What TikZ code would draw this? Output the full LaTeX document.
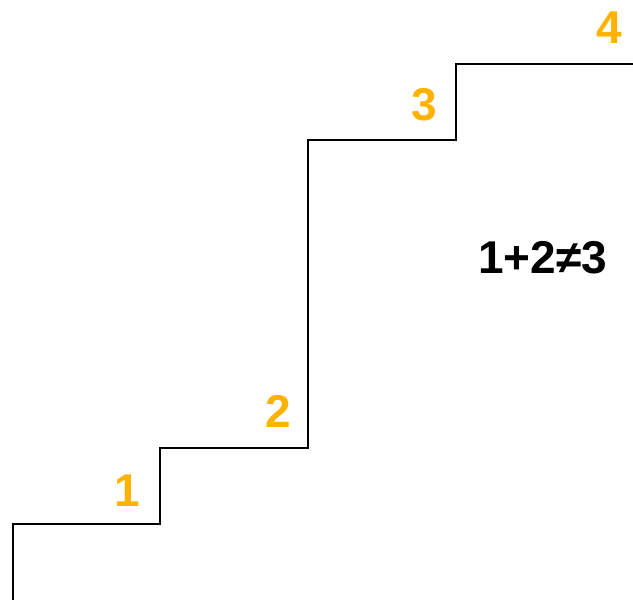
\documentclass[tikz,border=0pt]{standalone}
\usepackage{fontspec}
\setmainfont{Liberation Sans}
\definecolor{steporange}{HTML}{FFB300}
\begin{document}
\begin{tikzpicture}[x=1pt,y=-1pt,
  stairline/.style={line width=2pt,black,line join=miter},
  steplabel/.style={font=\fontsize{46}{46}\selectfont\bfseries,text=steporange,inner sep=0pt,anchor=base},
  eqlabel/.style={font=\fontsize{46}{46}\selectfont\bfseries,text=black,inner sep=0pt,anchor=base}]
\useasboundingbox (0,0) rectangle (633,600);
\draw[stairline] (13,601) -- (13,524) -- (160,524) -- (160,448) -- (308,448) -- (308,140) -- (456,140) -- (456,64) -- (634,64);
\node[steplabel] (l1) at (127.5,506) {1};
\node[steplabel] (l2) at (278,427) {2};
\node[steplabel] (l3) at (424,120) {3};
\node[steplabel] (l4) at (609,43) {4};
\node[eqlabel] (eq) at (542.5,273) {1+2≠3};
\end{tikzpicture}
\end{document}
